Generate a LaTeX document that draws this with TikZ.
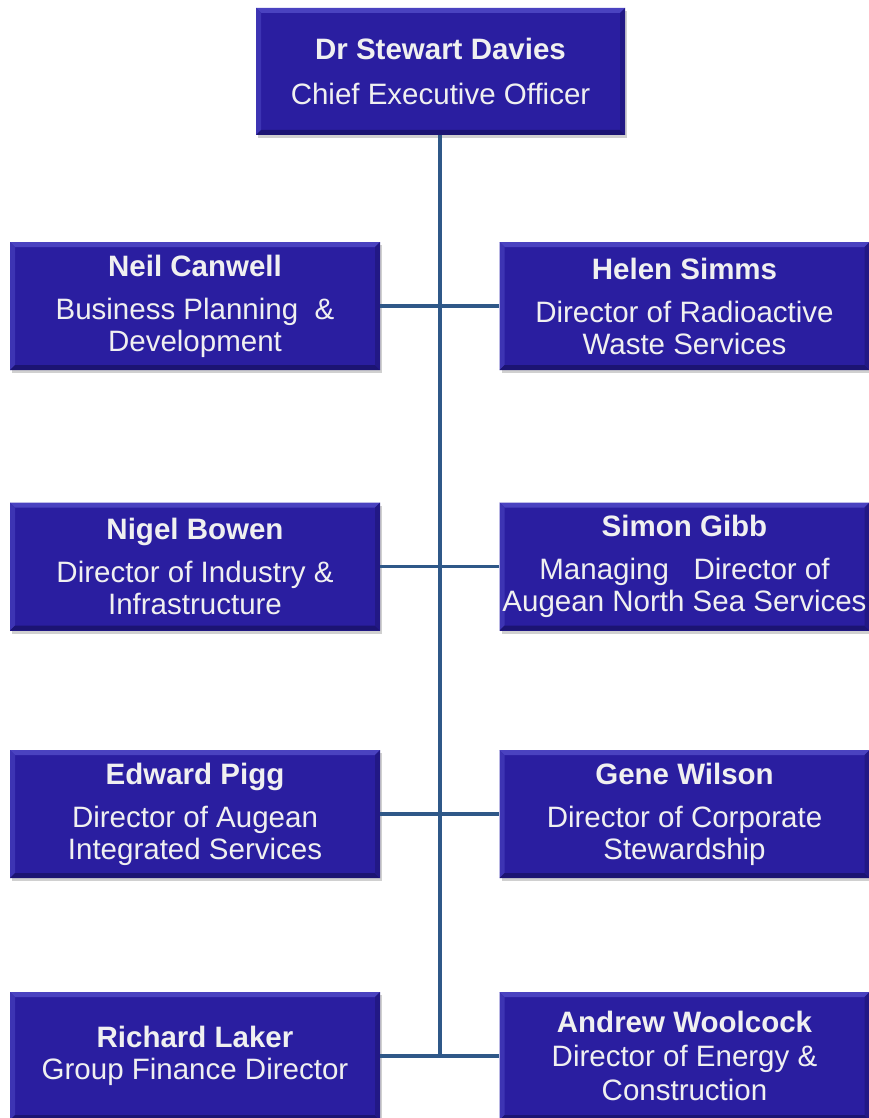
\documentclass[tikz,border=0pt]{standalone}
\usepackage{fontspec}
\setmainfont{Liberation Sans}
\usetikzlibrary{shadows}
\definecolor{boxfill}{RGB}{42,30,160}
\definecolor{boxlight}{RGB}{74,66,192}
\definecolor{boxdark}{RGB}{28,20,115}
\definecolor{linkcol}{RGB}{47,88,136}
\tikzset{
  orgbox/.style={rectangle, fill=boxfill, minimum width=370pt, minimum height=128pt,
    inner sep=0pt, align=center, text=white!94!black,
    font=\fontsize{29.5}{32}\selectfont,
    drop shadow={shadow xshift=2pt, shadow yshift=-3pt, opacity=0.3, fill=black!60},
    path picture={
      \fill[boxlight] (path picture bounding box.north west) -- (path picture bounding box.north east)
        -- ([xshift=-5pt,yshift=-5pt]path picture bounding box.north east)
        -- ([xshift=5pt,yshift=-5pt]path picture bounding box.north west) -- cycle;
      \fill[boxlight!60!boxfill] (path picture bounding box.north west) -- ([xshift=5pt,yshift=-5pt]path picture bounding box.north west)
        -- ([xshift=5pt,yshift=5pt]path picture bounding box.south west) -- (path picture bounding box.south west) -- cycle;
      \fill[boxdark] (path picture bounding box.south west) -- (path picture bounding box.south east)
        -- ([xshift=-5pt,yshift=5pt]path picture bounding box.south east)
        -- ([xshift=5pt,yshift=5pt]path picture bounding box.south west) -- cycle;
      \fill[boxdark!60!boxfill] (path picture bounding box.north east) -- ([xshift=-5pt,yshift=-5pt]path picture bounding box.north east)
        -- ([xshift=-5pt,yshift=5pt]path picture bounding box.south east) -- (path picture bounding box.south east) -- cycle;
    }},
  link/.style={draw=linkcol, line width=3.5pt}
}
\begin{document}
\begin{tikzpicture}[x=1pt,y=-1pt]
\useasboundingbox[fill=white] (0,0) rectangle (869,1118);
\node[orgbox, minimum width=369pt, minimum height=127pt] (ceo) at (440.5,71.5)
  {\textbf{Dr Stewart Davies}\\[13pt]Chief Executive Officer};
\node[orgbox] (l1) at (195,306) {\textbf{Neil Canwell}\\[11pt]Business Planning\ \ \&\\Development};
\node[orgbox] (r1) at (684.5,306) {\textbf{Helen Simms}\\[11pt]Director of Radioactive\\Waste Services};
\node[orgbox] (l2) at (195,566.5) {\textbf{Nigel Bowen}\\[11pt]Director of Industry \&\\Infrastructure};
\node[orgbox] (r2) at (684.5,566.5) {\textbf{Simon Gibb}\\[11pt]Managing\ \ \ Director of\\Augean North Sea Services};
\node[orgbox] (l3) at (195,814) {\textbf{Edward Pigg}\\[11pt]Director of Augean\\Integrated Services};
\node[orgbox] (r3) at (684.5,814) {\textbf{Gene Wilson}\\[11pt]Director of Corporate\\Stewardship};
\node[orgbox] (l4) at (195,1056) {\textbf{Richard Laker}\\Group Finance Director};
\node[orgbox, font=\fontsize{29.5}{34}\selectfont] (r4) at (684.5,1056) {\textbf{Andrew Woolcock}\\Director of Energy \&\\Construction};
\coordinate (j4) at (440,1056);
\draw[link] (ceo.south -| j4) -- (j4);
\draw[link] (l1.east) -- (r1.west);
\draw[link] (l2.east) -- (r2.west);
\draw[link] (l3.east) -- (r3.west);
\draw[link] (l4.east) -- (r4.west);
\end{tikzpicture}
\end{document}
